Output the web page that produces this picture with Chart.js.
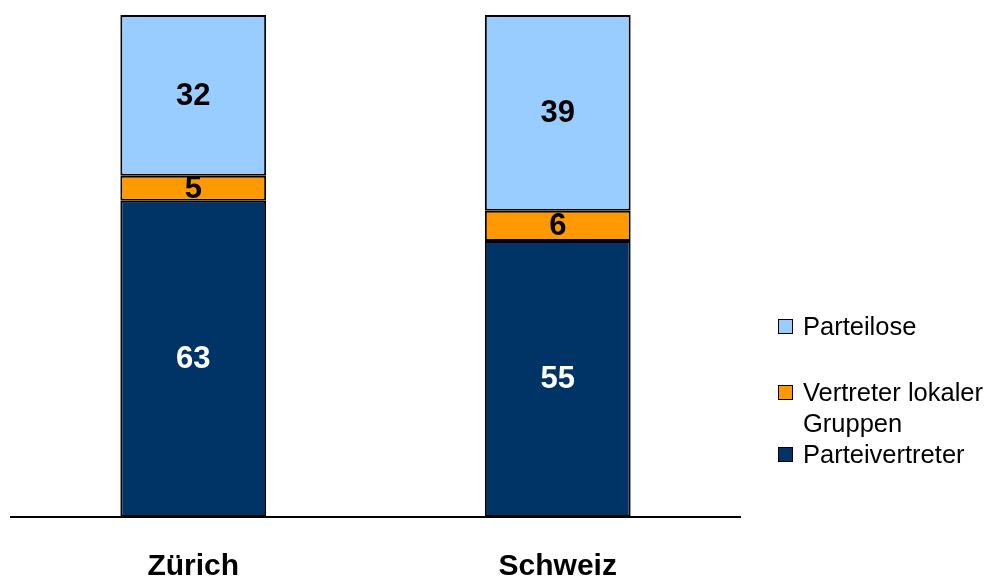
<!DOCTYPE html>
<html>
<head>
<meta charset="utf-8">
<script src="https://cdn.jsdelivr.net/npm/chart.js@4/dist/chart.umd.min.js"></script>
<style>
  html, body { margin: 0; padding: 0; background: #fff; }
  body { width: 988px; height: 578px; position: relative; overflow: hidden;
         font-family: "Liberation Sans", Arial, sans-serif; }
  /* canvas runs a little below the page so the axis sits low enough */
  #wrap { position: absolute; left: 0; top: 0; width: 988px; height: 619px; }
  #legend { position: absolute; left: 778px; top: 0; }
  .item { position: absolute; left: 0; display: flex; align-items: flex-start;
          font-size: 25.5px; line-height: 31px; color: #000; white-space: nowrap; }
  .box { width: 13px; height: 13px; border: 1px solid #000; margin: 8px 10px 0 0; flex: none; }
</style>
</head>
<body>
<div id="wrap"><canvas id="chart"></canvas></div>
<div id="legend"></div>
<script>
const categories = ['Zürich', 'Schweiz'];
const parteivertreter = [63, 55];
const lokaleGruppen = [5, 6];
const parteilose = [32, 39];

const seriesNames = ['Parteivertreter', 'Vertreter lokaler Gruppen', 'Parteilose'];
const seriesColors = ['#003366', '#FF9900', '#99CCFF'];
const labelColors = ['#ffffff', '#000000', '#000000'];

// values printed in the middle of each segment
const segmentLabels = {
  id: 'segmentLabels',
  afterDatasetsDraw(chart) {
    const ctx = chart.ctx;
    ctx.save();
    ctx.font = 'bold 31px "Liberation Sans", Arial, sans-serif';
    ctx.textAlign = 'center';
    ctx.textBaseline = 'middle';
    chart.data.datasets.forEach((ds, i) => {
      chart.getDatasetMeta(i).data.forEach((bar, j) => {
        const { x, y, base } = bar.getProps(['x', 'y', 'base'], true);
        ctx.fillStyle = labelColors[i];
        ctx.fillText(ds.data[j], x, (y + base) / 2 + 1);
      });
    });
    ctx.restore();
  }
};

const chart = new Chart(document.getElementById('chart'), {
  type: 'bar',
  data: {
    labels: categories,
    datasets: [
      { label: seriesNames[0], data: parteivertreter },
      { label: seriesNames[1], data: lokaleGruppen },
      { label: seriesNames[2], data: parteilose }
    ].map((d, i) => Object.assign(d, {
      backgroundColor: seriesColors[i],
      borderColor: '#000',
      borderWidth: 2,
      borderSkipped: false,
      barPercentage: 0.8,
      categoryPercentage: 0.5
    }))
  },
  options: {
    responsive: true,
    maintainAspectRatio: false,
    animation: false,
    layout: { padding: { left: 11, right: 248, top: 15, bottom: 2 } },
    plugins: {
      legend: { display: false },
      tooltip: { enabled: false }
    },
    scales: {
      x: {
        stacked: true,
        grid: { display: false, drawTicks: false },
        border: { display: true, color: '#000', width: 2 },
        ticks: {
          color: '#000',
          padding: 35,
          font: { family: '"Liberation Sans", Arial, sans-serif', size: 30, weight: 'bold', lineHeight: 1 }
        }
      },
      y: {
        stacked: true,
        display: false,
        min: 0,
        max: 100
      }
    }
  },
  plugins: [segmentLabels]
});

// legend, top to bottom in reverse stacking order
const legendTops = [311, 377, 439];
const legendEl = document.getElementById('legend');
[2, 1, 0].forEach((i, k) => {
  const item = document.createElement('div');
  item.className = 'item';
  item.style.top = legendTops[k] + 'px';
  const box = document.createElement('span');
  box.className = 'box';
  box.style.background = seriesColors[i];
  const text = document.createElement('span');
  text.innerHTML = i === 1 ? 'Vertreter lokaler<br>Gruppen' : seriesNames[i];
  item.appendChild(box);
  item.appendChild(text);
  legendEl.appendChild(item);
});
</script>
</body>
</html>
